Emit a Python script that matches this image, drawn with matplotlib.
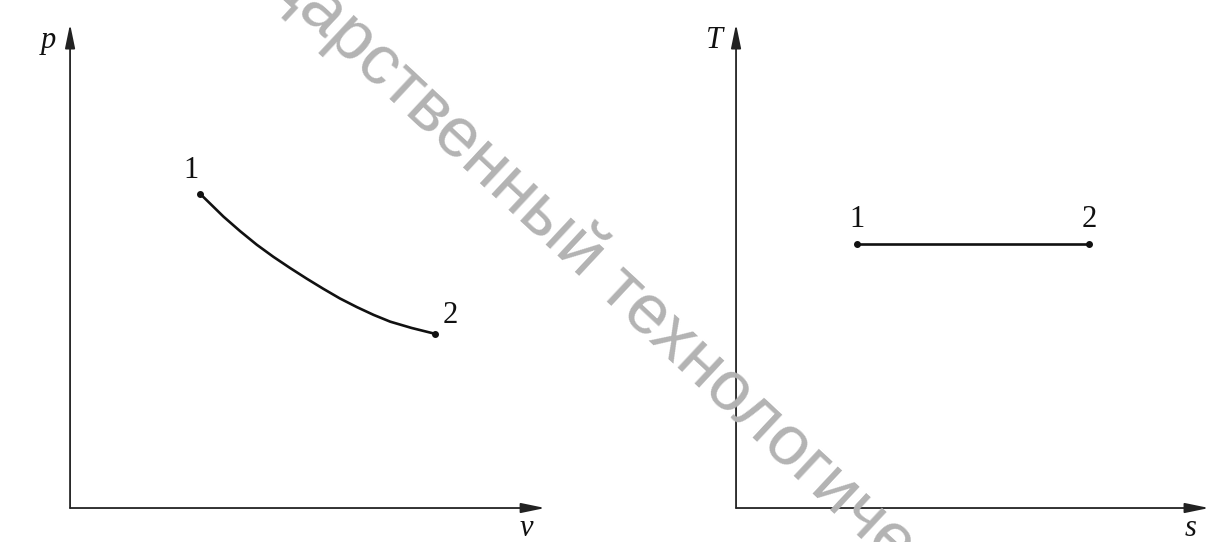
import matplotlib.pyplot as plt

# p-v diagram: isotherm 1-2
v_curve = [2.74, 3.23, 3.58, 3.93, 4.28, 4.63, 4.98, 5.33, 5.68, 6.04, 6.39, 6.74, 7.19, 7.68]
p_curve = [6.49, 6.02, 5.72, 5.44, 5.19, 4.96, 4.74, 4.53, 4.33, 4.15, 3.99, 3.85, 3.72, 3.60]

# T-s diagram: horizontal line 1-2
s_line = [2.56, 7.47]
T_line = [5.46, 5.46]

point_labels = ["1", "2"]
watermark = "государственный технологический"

AX_LIM = (0, 10)
INK = "#111111"
AXIS_INK = "#222222"

serif = ["Liberation Serif", "DejaVu Serif"]

fig = plt.figure(figsize=(12.1, 5.42), dpi=100)
fig.patch.set_facecolor("white")

# axes boxes, in figure fractions
ax_pv = fig.add_axes([0.0579, 0.0627, 0.3926, 0.893])
ax_ts = fig.add_axes([0.6083, 0.0627, 0.3909, 0.893])


def draw_frame(ax, xlabel, ylabel):
    ax.set_xlim(*AX_LIM)
    ax.set_ylim(*AX_LIM)
    ax.axis("off")
    arrow = dict(arrowstyle="-|>,head_length=1.45,head_width=0.3",
                 color=AXIS_INK, lw=1.3, shrinkA=0, shrinkB=0, mutation_scale=10)
    ax.annotate("", xy=(1, 0), xytext=(0, 0), xycoords="axes fraction",
                textcoords="axes fraction", arrowprops=arrow, annotation_clip=False)
    ax.annotate("", xy=(0, 1), xytext=(0, 0), xycoords="axes fraction",
                textcoords="axes fraction", arrowprops=arrow, annotation_clip=False)
    ax.text(-0.046, 0.965, ylabel, transform=ax.transAxes, ha="center", va="center",
            family=serif, style="italic", fontsize=22, color=INK)
    ax.text(0.961, -0.043, xlabel, transform=ax.transAxes, ha="center", va="center",
            family=serif, style="italic", fontsize=22, color=INK)


draw_frame(ax_pv, "v", "p")
draw_frame(ax_ts, "s", "T")

# isotherm on p-v
ax_pv.plot(v_curve, p_curve, color=INK, lw=1.9, solid_capstyle="round",
           solid_joinstyle="round", clip_on=False)
ax_pv.plot([v_curve[0], v_curve[-1]], [p_curve[0], p_curve[-1]], "o",
           color=INK, ms=4, clip_on=False)
ax_pv.annotate(point_labels[0], (v_curve[0], p_curve[0]), xytext=(-6.5, 16.5),
               textcoords="offset points", ha="center", va="center",
               family=serif, fontsize=22, color=INK)
ax_pv.annotate(point_labels[1], (v_curve[-1], p_curve[-1]), xytext=(11, 13.5),
               textcoords="offset points", ha="center", va="center",
               family=serif, fontsize=22, color=INK)

# isotherm on T-s
ax_ts.plot(s_line, T_line, color=INK, lw=1.9, clip_on=False)
ax_ts.plot(s_line, T_line, "o", color=INK, ms=4, clip_on=False)
for s, T, lab in zip(s_line, T_line, point_labels):
    ax_ts.annotate(lab, (s, T), xytext=(0, 17.5), textcoords="offset points",
                   ha="center", va="center", family=serif, fontsize=22, color=INK)

# diagonal watermark across the middle
fig.text(0.493, 0.508, watermark, rotation=-43, rotation_mode="anchor",
         ha="center", va="center", family=["Liberation Sans", "DejaVu Sans"],
         fontsize=51, color="#b3b3b3", zorder=5)

fig.savefig("out.png", dpi=100)
